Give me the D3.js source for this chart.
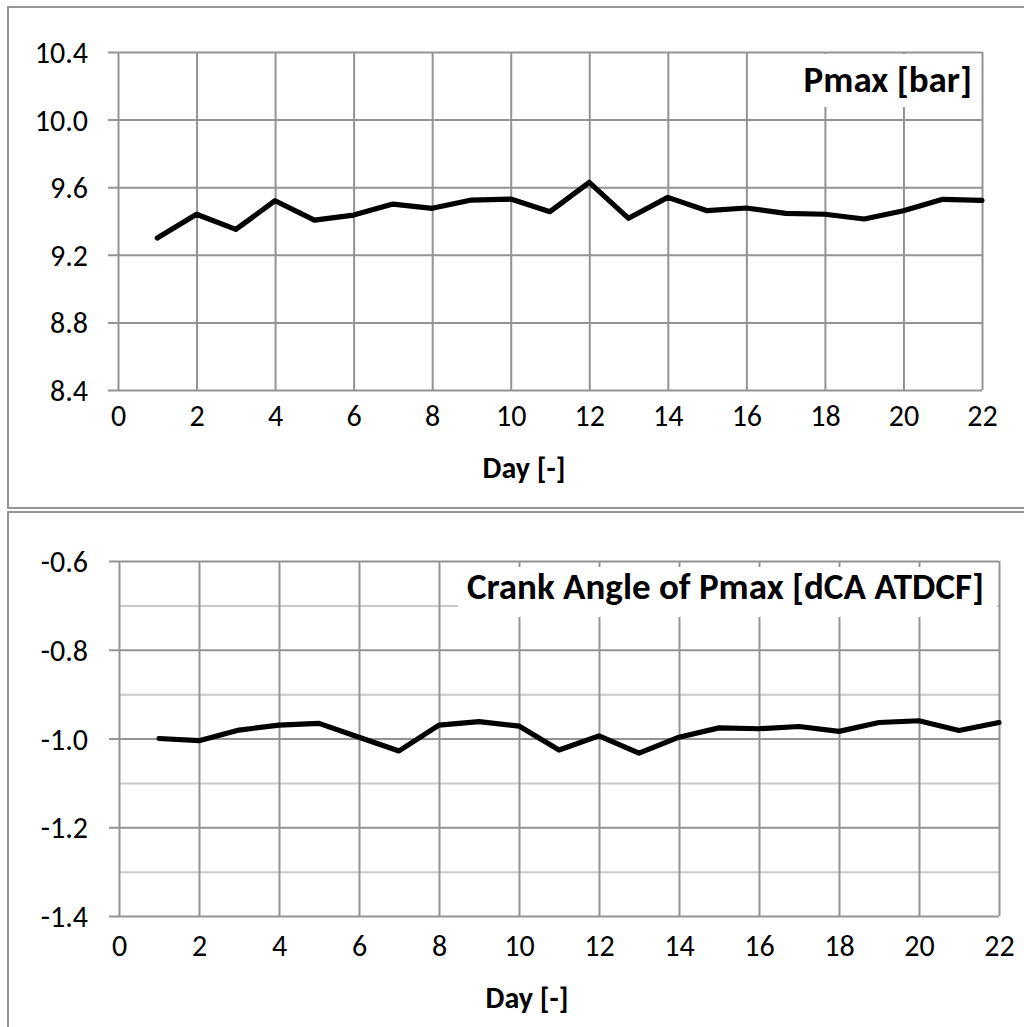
<!DOCTYPE html>
<html><head><meta charset="utf-8">
<script src="https://cdn.jsdelivr.net/npm/d3@7"></script>
<style>html,body{margin:0;padding:0;background:#fff;}svg{display:block;}</style>
</head><body>
<svg id="c" width="1024" height="1027"></svg>
<script>
const days = d3.range(1, 23);
const pmax = [9.30, 9.44, 9.35, 9.52, 9.405, 9.435, 9.50, 9.475, 9.524, 9.53, 9.455, 9.629, 9.416, 9.54, 9.461, 9.477, 9.445, 9.44, 9.412, 9.461, 9.528, 9.522];
const crankAngle = [-1.0, -1.005, -0.981, -0.970, -0.966, -0.997, -1.028, -0.970, -0.962, -0.972, -1.026, -0.994, -1.033, -0.997, -0.976, -0.978, -0.973, -0.984, -0.964, -0.960, -0.982, -0.964];
const xTicks = d3.range(0, 23, 2);
const pmaxTicks = [8.4, 8.8, 9.2, 9.6, 10.0, 10.4];
const caTicks = [-1.4, -1.2, -1.0, -0.8, -0.6];
const caMinor = [-1.3, -1.1, -0.9, -0.7];
const xLabel = "Day [-]";
const pmaxTitle = "Pmax [bar]";
const caTitle = "Crank Angle of Pmax [dCA ATDCF]";

const svg = d3.select("#c");
const FONT = "Carlito, Lato, 'Liberation Sans', sans-serif";
const GRID = "#939393";
const fmtY = v => v.toFixed(1);

function panel(o) {
  const g = svg.append("g");
  g.append("rect").attr("x", o.box[0]).attr("y", o.box[1]).attr("width", o.box[2]).attr("height", o.box[3])
    .attr("fill", "#fff").attr("stroke", "#8a8a8a").attr("stroke-width", 1.8);
  const x = d3.scaleLinear().domain([0, 22]).range([o.l, o.r]);
  const y = d3.scaleLinear().domain(o.ydom).range([o.b, o.t]);
  if (o.minor) {
    g.append("g").call(d3.axisLeft(y).tickValues(o.minor).tickSize(-(o.r - o.l)).tickFormat(""))
      .attr("transform", `translate(${o.l},0)`)
      .call(s => { s.select(".domain").remove(); s.selectAll("line").attr("stroke", "#cacaca").attr("stroke-width", 2); });
  }
  g.append("g").attr("transform", `translate(0,${o.b})`)
    .call(d3.axisBottom(x).tickValues(xTicks).tickSize(-(o.b - o.t)).tickFormat(""))
    .call(s => { s.select(".domain").remove(); s.selectAll("line").attr("stroke", GRID).attr("stroke-width", 2); });
  const ya = g.append("g").attr("transform", `translate(${o.l - 10},0)`)
    .call(d3.axisLeft(y).tickValues(o.yticks).tickSize(-(o.r - o.l + 10)).tickFormat(fmtY));
  ya.select(".domain").remove();
  ya.selectAll("line").attr("stroke", GRID).attr("stroke-width", 2);
  ya.selectAll("text").attr("font-family", FONT).attr("font-size", 30).attr("fill", "#000")
    .attr("dy", "0.35em").attr("text-anchor", "end")
    .attr("x", o.ylabR - (o.l - 10));
  const xa = g.append("g").attr("transform", `translate(0,${o.b})`)
    .call(d3.axisBottom(x).tickValues(xTicks).tickSize(0).tickFormat(d3.format("d")));
  xa.select(".domain").remove();
  xa.selectAll("text").attr("font-family", FONT).attr("font-size", 30).attr("fill", "#000")
    .attr("y", o.xlabY - o.b).attr("dy", "0.35em");
  g.append("text").attr("x", o.titleX).attr("y", o.titleY).attr("dy", "0.35em").attr("text-anchor", "middle")
    .attr("font-family", FONT).attr("font-weight", "bold").attr("font-size", 30).text(xLabel);
  g.append("rect").attr("x", o.lb[0]).attr("y", o.lb[1]).attr("width", o.lb[2]).attr("height", o.lb[3]).attr("fill", "#fff");
  g.append("text").attr("x", o.lt[0]).attr("y", o.lt[1]).attr("text-anchor", "end")
    .attr("font-family", FONT).attr("font-weight", "bold").attr("font-size", 37).text(o.title);
  const line = d3.line().x((d, i) => x(days[i])).y(d => y(d));
  g.append("path").datum(o.values).attr("d", line).attr("fill", "none").attr("stroke", "#000")
    .attr("stroke-width", 5.2).attr("stroke-linejoin", "round").attr("stroke-linecap", "round");
}

panel({ box: [8, 7, 1100, 501], l: 118, r: 982, t: 52, b: 390, ydom: [8.4, 10.4], yticks: pmaxTicks,
  ylabR: 88, xlabY: 415, titleX: 524, titleY: 467, values: pmax, title: pmaxTitle,
  lb: [822, 54, 159, 53], lt: [972, 92] });
panel({ box: [8, 512, 1100, 600], l: 119, r: 999, t: 561, b: 916, ydom: [-1.4, -0.6], yticks: caTicks, minor: caMinor,
  ylabR: 88, xlabY: 945, titleX: 527, titleY: 997, values: crankAngle, title: caTitle,
  lb: [458, 567, 539, 50], lt: [984, 599] });
</script>
</body></html>
